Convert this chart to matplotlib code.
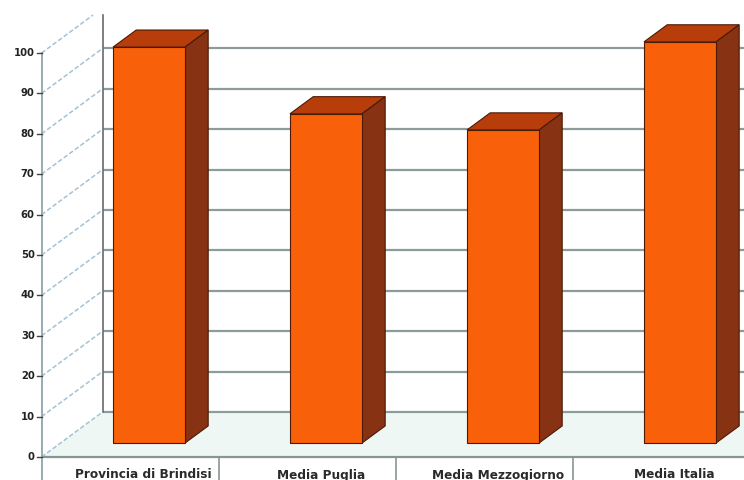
import matplotlib
matplotlib.use('Agg')
import matplotlib.pyplot as plt
from matplotlib.patches import Polygon

# ---- data ----
categories = ['Provincia di Brindisi', 'Media Puglia', 'Media Mezzogiorno', 'Media Italia']
values = [98.0, 81.5, 77.5, 99.3]
yticks = list(range(0, 101, 10))

# ---- geometry (pixels -> data scales) ----
W, H = 744, 480
PX_PER_CAT = 177.0
PX_PER_VAL = 4.04
X0_PX = 149.0   # pixel x of first bar centre
Y0_PX = 23.0    # pixel (from bottom) of value 0 in the front plane

fig = plt.figure(figsize=(W / 100, H / 100), dpi=100)
ax = fig.add_axes([0, 0, 1, 1])
ax.set_axis_off()
xl = -X0_PX / PX_PER_CAT
xr = (W - X0_PX) / PX_PER_CAT
yb = -Y0_PX / PX_PER_VAL
yt = (H - Y0_PX) / PX_PER_VAL
ax.set_xlim(xl, xr)
ax.set_ylim(yb, yt)

DX = 61 / PX_PER_CAT          # full depth shift in x
DY = 45 / PX_PER_VAL          # full depth shift in y
BAR_D = 0.31                  # depth fraction of bar front face
BAR_DEPTH = 0.38              # bar depth fraction
BAR_W = 72 / PX_PER_CAT
WALL_TOP = (465 - Y0_PX) / PX_PER_VAL

c0 = -BAR_D * DX              # front-plane centre of category 0
xa = c0 - 0.5                 # front-plane left edge (y axis)
xb = xa + DX                  # back wall left edge

grid_c = '#8c9c9c'
diag_c = '#a4c2d4'
axis_c = '#98aab2'

# floor
ax.add_patch(Polygon([(xa, 0), (xr, 0), (xr, DY), (xb, DY)], closed=True,
                     facecolor='#eff7f5', edgecolor='none', zorder=1))

# back wall gridlines
for v in yticks:
    if v + DY <= WALL_TOP:
        ax.plot([xb, xr], [v + DY, v + DY], color=grid_c, lw=1.6, zorder=2,
                solid_capstyle='butt')

# back wall vertical edge
ax.plot([xb, xb], [DY, WALL_TOP], color='#6a6a6a', lw=1.2, zorder=2)

# diagonal lines on side wall
for v in yticks:
    t = 1.0
    if v + DY > WALL_TOP:
        t = (WALL_TOP - v) / DY
    ax.plot([xa, xa + t * DX], [v, v + t * DY], color=diag_c, lw=1.1,
            ls=(0, (3, 1.5)), zorder=2)

# front floor edge
ax.plot([xa, xr], [0, 0], color='#8a9494', lw=1.6, zorder=3)

# front y axis
ax.plot([xa, xa], [yb, 100], color=axis_c, lw=1.4, zorder=3)
for v in yticks:
    ax.plot([xa - 5 / PX_PER_CAT, xa], [v, v], color='#444444', lw=1.0, zorder=3)
    ax.text(xa - 7 / PX_PER_CAT, v, str(v), ha='right', va='center',
            fontsize=7.2, fontweight='bold', color='#222222', family='DejaVu Sans')

# category separators
for k in range(1, len(categories)):
    xs = xa + k
    ax.plot([xs, xs], [yb, 0], color='#8a9494', lw=1.2, zorder=3)

# bars
front_c = '#f8600a'
top_c = '#b73e0b'
side_c = '#873212'
edge_c = '#4a1a06'
x_pos = list(range(len(categories)))
b0 = BAR_D * DY
ax.bar(x_pos, values, width=BAR_W, bottom=b0, color=front_c, edgecolor=edge_c,
       linewidth=0.8, zorder=6)
ddx = BAR_DEPTH * DX
ddy = BAR_DEPTH * DY
for x, v in zip(x_pos, values):
    l = x - BAR_W / 2
    r = x + BAR_W / 2
    top = b0 + v
    ax.add_patch(Polygon([(l, top), (r, top), (r + ddx, top + ddy), (l + ddx, top + ddy)],
                         closed=True, facecolor=top_c, edgecolor=edge_c, lw=0.8, zorder=5))
    ax.add_patch(Polygon([(r, b0), (r + ddx, b0 + ddy), (r + ddx, top + ddy), (r, top)],
                         closed=True, facecolor=side_c, edgecolor=edge_c, lw=0.8, zorder=5))

# category labels
label_y = (5 - Y0_PX) / PX_PER_VAL
for x, name in zip(x_pos, categories):
    ax.text(x - 0.03, label_y, name, ha='center', va='center', fontsize=8.7,
            fontweight='bold', color='#2a2a2a', family='DejaVu Sans')

fig.savefig('out.png', dpi=100)
